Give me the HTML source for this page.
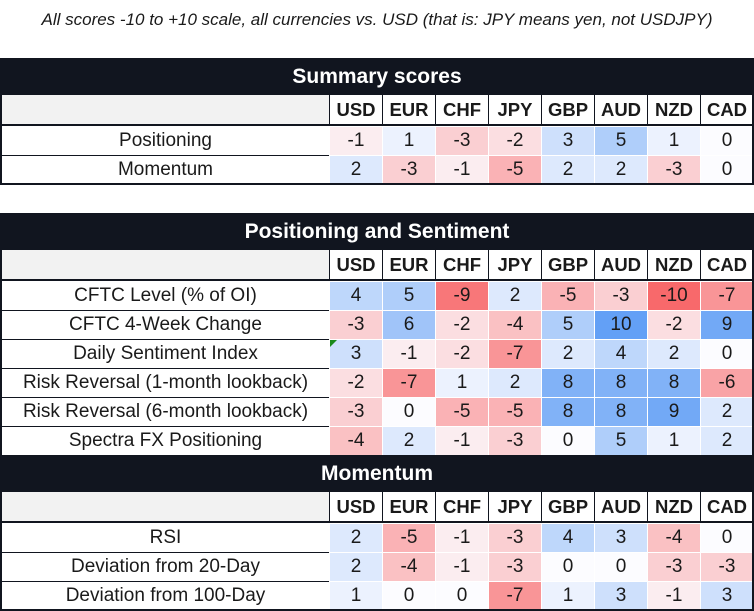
<!DOCTYPE html>
<html><head><meta charset="utf-8"><style>
body{margin:0;width:754px;height:611px;background:#fff;position:relative;overflow:hidden;font-family:"Liberation Sans",sans-serif;color:#1a1a1a}
.a{position:absolute;box-sizing:border-box;display:flex;align-items:center;justify-content:center;white-space:nowrap}
</style></head><body>
<div class="a" style="left:0;top:6px;width:754px;height:28px;font-style:italic;font-size:17px;">All scores -10 to +10 scale, all currencies vs. USD (that is: JPY means yen, not USDJPY)</div>
<div id="c"></div>
<script>
const C=["USD","EUR","CHF","JPY","GBP","AUD","NZD","CAD"];
const X=[329,382,435,488,541,594,647,700,753];
let h="";
function box(l,t,w,ht,st,txt){h+=`<div class="a" style="left:${l}px;top:${t}px;width:${w}px;height:${ht}px;${st}">${txt===undefined?"":txt}</div>`;}
function col(v){let r,g,b;if(v>=0){const f=v/10;r=252+(99-252)*f;g=252+(160-252)*f;b=255+(246-255)*f;}else{const f=-v/10;r=252+(248-252)*f;g=252+(105-252)*f;b=255+(107-255)*f;}return `rgb(${r|0},${g|0},${b|0})`;}
function bar(t,b,txt){box(0,t,754,b-t,"background:#11151f;color:#fff;font-weight:bold;font-size:21px;",txt);}
function hdr(t,b){box(2,t,327,b-t,"background:#f2f2f2");for(let i=0;i<8;i++)box(X[i],t,X[i+1]-X[i],b-t,"background:#fff;border-left:1.5px solid #11151f;font-weight:bold;font-size:18.5px;",C[i]);}
function rows(t,data,hgt){data.forEach((r,k)=>{const y=t+k*hgt;box(2,y,327,hgt,"background:#fff;font-size:19px;"+(k?"border-top:1px solid #11151f;":""),r[0]);for(let i=0;i<8;i++)box(X[i],y,X[i+1]-X[i],hgt,`background:${col(r[1][i])};border-left:1px solid #fff;border-top:1px solid #fff;font-size:19px;`,String(r[1][i]));});}
function frame(t,b){box(0,t,754,b-t,"border:2px solid #11151f;");}
bar(58,95,"Summary scores");hdr(95,124);
box(0,124,754,2,"background:#11151f");
rows(126,[["Positioning",[-1,1,-3,-2,3,5,1,0]],["Momentum",[2,-3,-1,-5,2,2,-3,0]]],29);
frame(58,185);
bar(213,250,"Positioning and Sentiment");hdr(250,279);
box(0,279,754,2,"background:#11151f");
rows(281,[["CFTC Level (% of OI)",[4,5,-9,2,-5,-3,-10,-7]],["CFTC 4-Week Change",[-3,6,-2,-4,5,10,-2,9]],["Daily Sentiment Index",[3,-1,-2,-7,2,4,2,0]],["Risk Reversal (1-month lookback)",[-2,-7,1,2,8,8,8,-6]],["Risk Reversal (6-month lookback)",[-3,0,-5,-5,8,8,9,2]],["Spectra FX Positioning",[-4,2,-1,-3,0,5,1,2]]],29);
bar(455,492,"Momentum");hdr(492,521);
box(0,521,754,2,"background:#11151f");
rows(523,[["RSI",[2,-5,-1,-3,4,3,-4,0]],["Deviation from 20-Day",[2,-4,-1,-3,0,0,-3,-3]],["Deviation from 100-Day",[1,0,0,-7,1,3,-1,3]]],29);
frame(213,611);
h+='<div style="position:absolute;left:330px;top:340px;width:0;height:0;border-top:7px solid #1a8a1a;border-right:7px solid transparent"></div>';
document.getElementById("c").innerHTML=h;
</script>
</body></html>
